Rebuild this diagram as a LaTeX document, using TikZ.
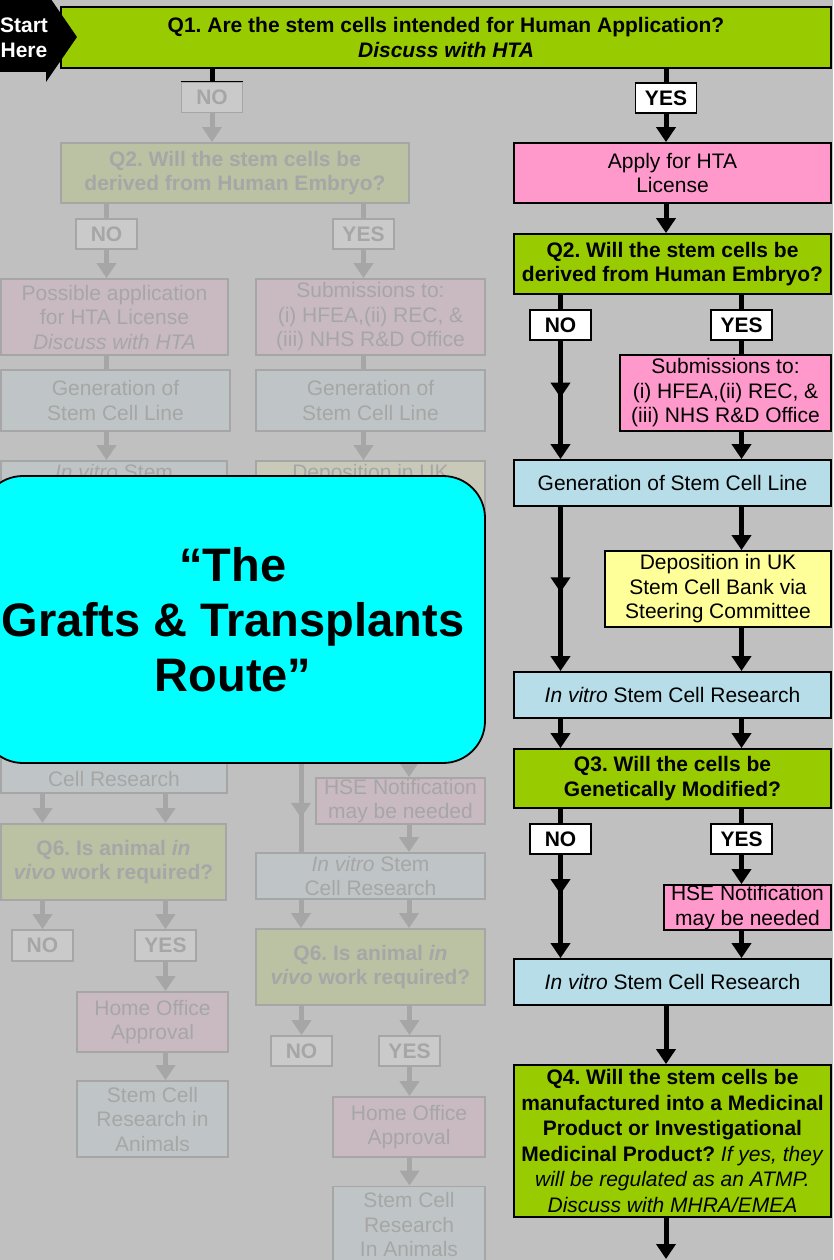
\documentclass[tikz,border=0pt]{standalone}
\usepackage{fontspec}
\setmainfont{Liberation Sans}
\usetikzlibrary{arrows.meta,decorations.markings}
\frenchspacing

\definecolor{bggray}{RGB}{192,192,192}
\definecolor{qgreen}{RGB}{153,204,0}
\definecolor{lpink}{RGB}{255,153,204}
\definecolor{lblue}{RGB}{183,222,232}
\definecolor{lyellow}{RGB}{255,255,153}
\definecolor{routecyan}{RGB}{0,255,255}
\definecolor{dimgreen}{RGB}{186,194,163}
\definecolor{dimpink}{RGB}{201,186,194}
\definecolor{dimblue}{RGB}{191,197,198}
\definecolor{dimyellow}{RGB}{201,201,186}
\definecolor{dimwhite}{RGB}{202,202,202}
\definecolor{dimline}{RGB}{166,166,166}

\tikzset{
  boxbase/.style={rectangle, draw=black, line width=1.8pt, inner sep=0pt, align=center,
    text=black, font=\fontsize{21}{24.5}\selectfont},
  question/.style={boxbase, fill=qgreen, font=\fontsize{21}{24.5}\selectfont\bfseries},
  action/.style={boxbase, fill=lpink},
  work/.style={boxbase, fill=lblue},
  bank/.style={boxbase, fill=lyellow},
  answer/.style={boxbase, fill=white, minimum width=61pt, minimum height=30pt,
    font=\fontsize{21}{24.5}\selectfont\bfseries},
  faded/.style={draw=dimline, text=dimline},
  dimquestion/.style={question, faded, fill=dimgreen},
  dimaction/.style={action, faded, fill=dimpink},
  dimwork/.style={work, faded, fill=dimblue},
  dimbank/.style={bank, faded, fill=dimyellow},
  dimanswer/.style={answer, faded, fill=dimwhite},
  plainline/.style={line width=5pt, color=black},
  arrowline/.style={plainline, -{Triangle[width=19pt,length=15pt]}},
  dimplain/.style={plainline, color=dimline},
  dimarrow/.style={arrowline, color=dimline},
  midtip/.style={postaction={decorate}, decoration={markings,
    mark=at position #1 with {\arrow{Triangle[width=19pt,length=15pt]}}}},
}

\begin{document}
\begin{tikzpicture}[x=1pt,y=-1pt]
\useasboundingbox (0,0) rectangle (833,1260);
\clip (0,0) rectangle (833,1260);
\fill[bggray] (0,0) rectangle (833,1260);

% ---------- greyed-out routes (left side) ----------
\node[dimanswer] (fno1) at (212,97.5) {NO};
\node[dimquestion, minimum width=348pt, minimum height=60pt] (fq2) at (235,173)
  {Q2. Will the stem cells be\\derived from Human Embryo?};
\node[dimanswer] (fno2) at (106.5,234) {NO};
\node[dimanswer] (fyes2) at (363.5,234) {YES};
\node[dimaction, minimum width=227pt, minimum height=76pt] (fposs) at (114.5,317)
  {Possible application\\for HTA License\\\textit{Discuss with HTA}};
\node[dimaction, minimum width=229pt, minimum height=76pt] (fsubm) at (370.5,317)
  {Submissions to:\\(i) HFEA,(ii) REC, \&\\(iii) NHS R\&D Office};
\node[dimwork, minimum width=229pt, minimum height=61pt] (fgenA) at (115.5,400.5)
  {Generation of\\Stem Cell Line};
\node[dimwork, minimum width=229pt, minimum height=61pt] (fgenB) at (370.5,400.5)
  {Generation of\\Stem Cell Line};
\node[dimwork, minimum width=226pt, minimum height=46pt] (fivA1) at (114,484)
  {\textit{In vitro} Stem\\Cell Research};
\node[dimbank, minimum width=229pt, minimum height=76pt] (fdepo) at (370.5,499)
  {Deposition in UK\\Stem Cell Bank via\\Steering Committee};
\node[dimwork, minimum width=226pt, minimum height=52pt] (fivA2) at (114,767)
  {\textit{In vitro} Stem\\Cell Research};
\node[dimquestion, minimum width=225pt, minimum height=76pt] (fq6A) at (113.5,862)
  {Q6. Is animal \textit{in}\\\textit{vivo} work required?};
\node[dimanswer, minimum height=31pt] (fnoA6) at (42.5,945.5) {NO};
\node[dimanswer, minimum height=31pt] (fyesA6) at (165.5,945.5) {YES};
\node[dimaction, minimum width=151pt, minimum height=60pt] (fhoA) at (152.5,1022)
  {Home Office\\Approval};
\node[dimwork, minimum width=151pt, minimum height=76pt] (fscA) at (152.5,1119)
  {Stem Cell\\Research in\\Animals};

\coordinate (fnoB3) at (301,720);
\coordinate (fyesB3) at (409,740);
\node[dimaction, minimum width=169pt, minimum height=46pt] (fhse) at (400.5,801)
  {HSE Notification\\may be needed};
\node[dimwork, minimum width=229pt, minimum height=46pt] (fivB) at (370.5,876)
  {\textit{In vitro} Stem\\Cell Research};
\node[dimquestion, minimum width=229pt, minimum height=76pt] (fq6B) at (370.5,967)
  {Q6. Is animal \textit{in}\\\textit{vivo} work required?};
\node[dimanswer] (fnoB6) at (301.5,1051) {NO};
\node[dimanswer] (fyesB6) at (409.5,1051) {YES};
\node[dimaction, minimum width=152pt, minimum height=60pt] (fhoB) at (409,1127)
  {Home Office\\Approval};
\node[dimwork, minimum width=152pt, minimum height=76pt] (fscB) at (409,1224.5)
  {Stem Cell\\Research\\In Animals};

% greyed-out connectors
\draw[dimarrow] (fno1.south) -- (fno1.south |- fq2.north);
\draw[dimplain] (fno2.north |- fq2.south) -- (fno2.north);
\draw[dimplain] (fyes2.north |- fq2.south) -- (fyes2.north);
\draw[dimarrow] (fno2.south) -- (fno2.south |- fposs.north);
\draw[dimarrow] (fyes2.south) -- (fyes2.south |- fsubm.north);
\draw[dimplain] (fno2.south |- fposs.south) -- (fno2.south |- fgenA.north);
\draw[dimplain] (fyes2.south |- fsubm.south) -- (fyes2.south |- fgenB.north);
\draw[dimarrow] (fno2.south |- fgenA.south) -- (fno2.south |- fivA1.north);
\draw[dimarrow] (fyes2.south |- fgenB.south) -- (fyes2.south |- fdepo.north);
\draw[dimarrow] (fnoA6.north |- fivA2.south) -- (fnoA6.north |- fq6A.north);
\draw[dimarrow] (fyesA6.north |- fivA2.south) -- (fyesA6.north |- fq6A.north);
\draw[dimarrow] (fnoA6.north |- fq6A.south) -- (fnoA6.north);
\draw[dimarrow] (fyesA6.north |- fq6A.south) -- (fyesA6.north);
\draw[dimarrow] (fyesA6.south) -- (fyesA6.south |- fhoA.north);
\draw[dimarrow] (fyesA6.south |- fhoA.south) -- (fyesA6.south |- fscA.north);
\draw[dimplain, midtip=0.74] (fnoB3) -- (fnoB3 |- fivB.north);
\draw[dimarrow] (fyesB3) -- (fyesB3 |- fhse.north);
\draw[dimarrow] (fyesB3 |- fhse.south) -- (fyesB3 |- fivB.north);
\draw[dimarrow] (fnoB3 |- fivB.south) -- (fnoB3 |- fq6B.north);
\draw[dimarrow] (fyesB3 |- fivB.south) -- (fyesB3 |- fq6B.north);
\draw[dimarrow] (fnoB6.north |- fq6B.south) -- (fnoB6.north);
\draw[dimarrow] (fyesB6.north |- fq6B.south) -- (fyesB6.north);
\draw[dimarrow] (fyesB6.south) -- (fyesB6.south |- fhoB.north);
\draw[dimarrow] (fyesB6.south |- fhoB.south) -- (fyesB6.south |- fscB.north);

% ---------- route banner ----------
\node[rectangle, draw=black, line width=1.8pt, fill=routecyan, rounded corners=42pt,
  minimum width=504pt, minimum height=287pt, inner sep=0pt, align=center,
  font=\fontsize{47}{55}\selectfont\bfseries] (route) at (233,619.5)
  {“The\\Grafts \& Transplants\\Route”};

% ---------- active route (right side) ----------
\node[question, minimum width=770pt, minimum height=61pt] (q1) at (446,37.5)
  {Q1. Are the stem cells intended for Human Application?\\\textit{Discuss with HTA}};
\node[answer] (yes1) at (666,98) {YES};
\node[action, minimum width=317pt, minimum height=60pt] (apply) at (672.5,173)
  {Apply for HTA\\License};
\node[question, minimum width=317pt, minimum height=60pt] (q2) at (672.5,264)
  {Q2. Will the stem cells be\\derived from Human Embryo?};
\node[answer] (no2) at (560.5,325) {NO};
\node[answer] (yes2) at (741.5,325) {YES};
\node[action, minimum width=211pt, minimum height=76pt] (subm) at (725.5,393)
  {Submissions to:\\(i) HFEA,(ii) REC, \&\\(iii) NHS R\&D Office};
\node[work, minimum width=317pt, minimum height=46pt] (gen) at (672.5,483)
  {Generation of Stem Cell Line};
\node[bank, minimum width=226pt, minimum height=76pt] (depo) at (718,589)
  {Deposition in UK\\Stem Cell Bank via\\Steering Committee};
\node[work, minimum width=317pt, minimum height=46pt] (iv1) at (672.5,695)
  {\textit{In vitro} Stem Cell Research};
\node[question, minimum width=317pt, minimum height=59pt] (q3) at (672.5,778.5)
  {Q3. Will the cells be\\Genetically Modified?};
\node[answer] (no3) at (560.5,839) {NO};
\node[answer] (yes3) at (741.5,839) {YES};
\node[action, minimum width=167pt, minimum height=45pt] (hse) at (747.5,907.5)
  {HSE Notification\\may be needed};
\node[work, minimum width=317pt, minimum height=46pt] (iv2) at (672.5,982)
  {\textit{In vitro} Stem Cell Research};
\node[question, minimum width=317pt, minimum height=152pt,
  font=\fontsize{21}{25.5}\selectfont\bfseries] (q4) at (672.5,1141)
  {Q4. Will the stem cells be\\manufactured into a Medicinal\\Product or Investigational\\
   Medicinal Product? \textmd{\textit{If yes, they}}\\
   \textmd{\textit{will be regulated as an ATMP.}}\\
   \textmd{\textit{Discuss with MHRA/EMEA}}};
\coordinate (onward) at (666,1259);

% active connectors
\draw[plainline] (q1.south -| fno1.north) -- (fno1.north);
\draw[line width=1.8pt] (fno1.north west) -- (fno1.north east);
\draw[plainline] (yes1.north |- q1.south) -- (yes1.north);
\draw[arrowline] (yes1.south) -- (yes1.south |- apply.north);
\draw[arrowline] (yes1.south |- apply.south) -- (yes1.south |- q2.north);
\draw[plainline] (no2.north |- q2.south) -- (no2.north);
\draw[plainline] (yes2.north |- q2.south) -- (yes2.north);
\draw[arrowline, midtip=0.48] (no2.south) -- (no2.south |- gen.north);
\draw[plainline] (yes2.south) -- (yes2.south |- subm.north);
\draw[arrowline] (yes2.south |- subm.south) -- (yes2.south |- gen.north);
\draw[arrowline, midtip=0.52] (no2.south |- gen.south) -- (no2.south |- iv1.north);
\draw[arrowline] (yes2.south |- gen.south) -- (yes2.south |- depo.north);
\draw[arrowline] (yes2.south |- depo.south) -- (yes2.south |- iv1.north);
\draw[arrowline] (no2.south |- iv1.south) -- (no2.south |- q3.north);
\draw[arrowline] (yes2.south |- iv1.south) -- (yes2.south |- q3.north);
\draw[plainline] (no3.north |- q3.south) -- (no3.north);
\draw[plainline] (yes3.north |- q3.south) -- (yes3.north);
\draw[arrowline, midtip=0.38] (no3.south) -- (no3.south |- iv2.north);
\draw[arrowline] (yes3.south) -- (yes3.south |- hse.north);
\draw[arrowline] (yes3.south |- hse.south) -- (yes3.south |- iv2.north);
\draw[arrowline] (yes1.south |- iv2.south) -- (yes1.south |- q4.north);
\draw[arrowline] (yes1.south |- q4.south) -- (onward);

% start marker
\fill[black] (0,-5) -- (46,-5) -- (46,-8) -- (77,37) -- (46,82) -- (46,72) -- (0,72) -- cycle;
\node[align=center, text=white, inner sep=0pt,
  font=\fontsize{21}{25}\selectfont\bfseries] (start) at (24,38) {Start\\Here};
\end{tikzpicture}
\end{document}
